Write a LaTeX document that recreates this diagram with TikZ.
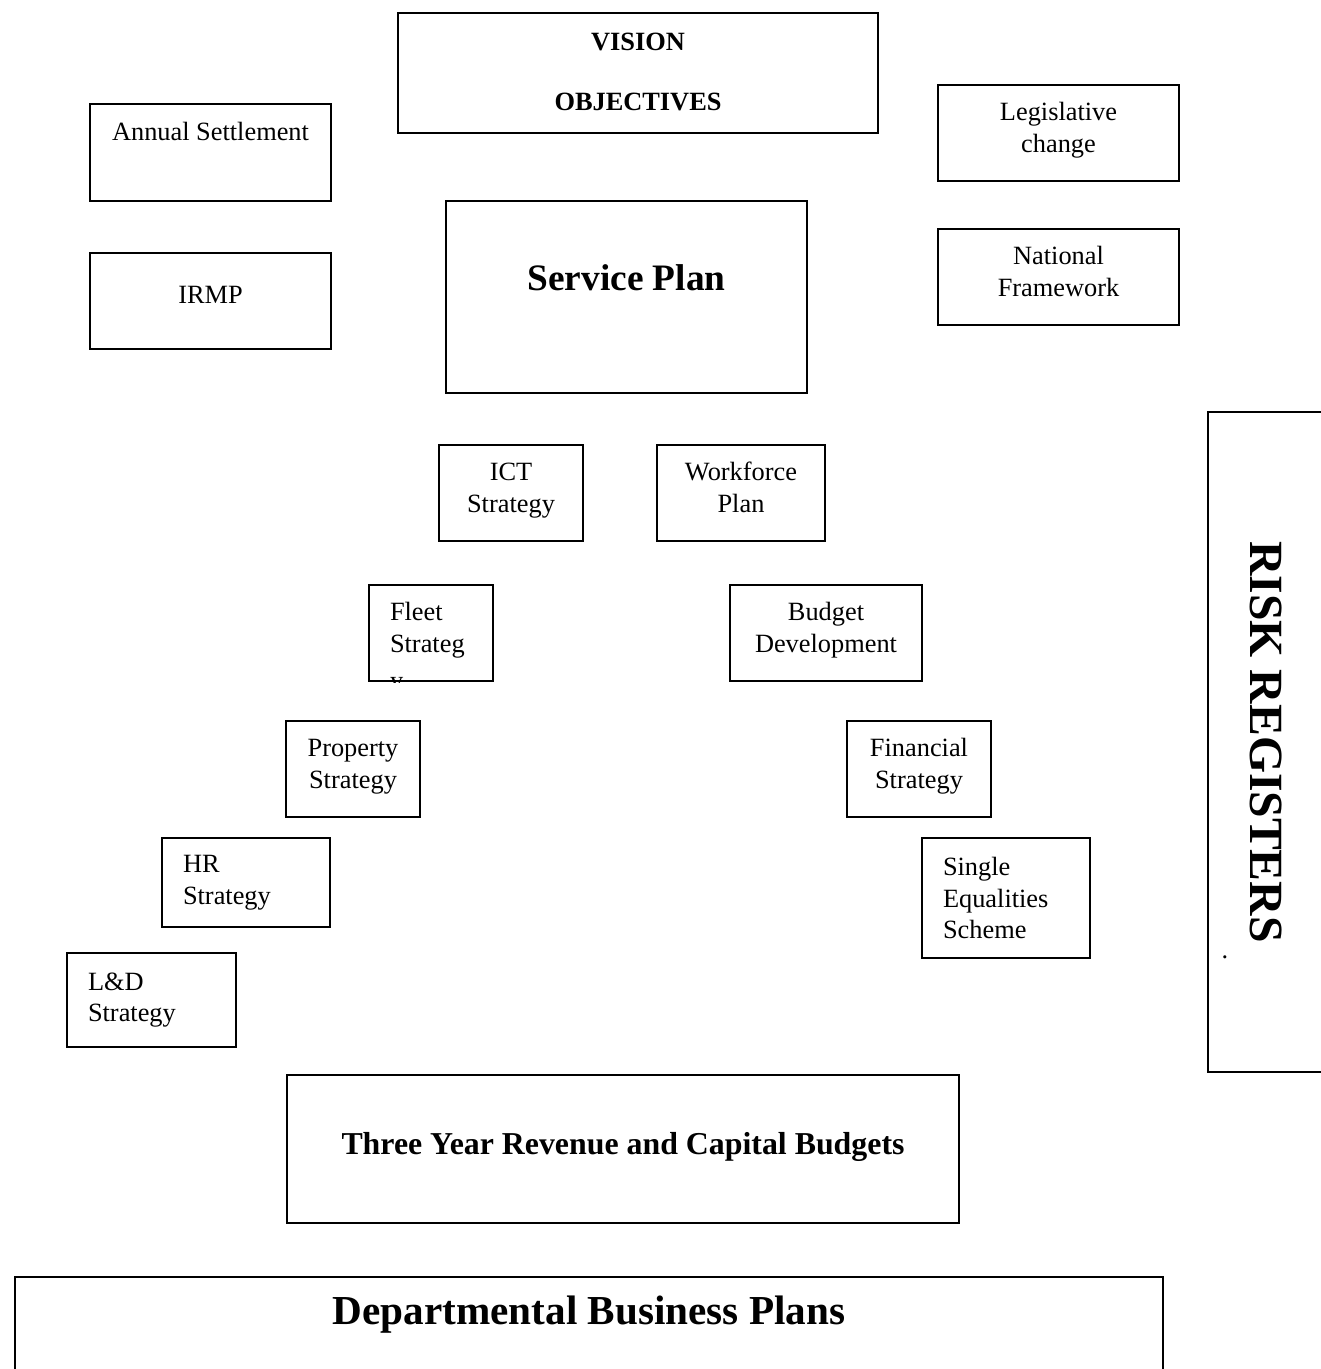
\documentclass[tikz,border=0pt]{standalone}
\usepackage{fontspec}
\setmainfont{Liberation Serif}
\usepackage{tikz}

\begin{document}
\begin{tikzpicture}[
  font=\fontsize{12}{14.5}\selectfont,
  box/.style={draw, line width=0.9pt, align=center, inner sep=0pt},
  tbox/.style={box, text depth=5pt},
  lbox/.style={draw, line width=0.9pt, align=left, inner xsep=0.336cm, inner ysep=0pt},
  head/.style={font=\bfseries\fontsize{12}{14.5}\selectfont}]
  \useasboundingbox (0,0) rectangle (21.12,-21.904);
  \node[box, head, minimum width=7.68cm, minimum height=1.92cm, text depth=1pt] (vision) at (10.208,-1.168) {VISION\\[12.8pt]OBJECTIVES};
  \node[box, minimum width=3.856cm, minimum height=1.552cm, text depth=19.6pt] (annual) at (3.368,-2.44) {Annual Settlement};
  \node[tbox, minimum width=3.856cm, minimum height=1.536cm] (legis) at (16.936,-2.128) {Legislative\\change};
  \node[box, font=\bfseries\fontsize{17}{20}\selectfont, minimum width=5.776cm, minimum height=3.072cm, text depth=17.3pt] (service) at (10.024,-4.752) {Service Plan};
  \node[box, minimum width=3.856cm, minimum height=1.536cm, text depth=5.5pt] (irmp) at (3.368,-4.816) {IRMP};
  \node[tbox, minimum width=3.856cm, minimum height=1.536cm] (national) at (16.936,-4.432) {National\\Framework};
  \node[box, rotate=-90, font=\bfseries\fontsize{21.7}{26}\selectfont, minimum width=10.56cm, minimum height=1.856cm] (risk) at (20.256,-11.872) {RISK REGISTERS};
  \node[inner sep=0pt] (dot) at (19.6,-15.32) {.};
  \node[tbox, minimum width=2.304cm, minimum height=1.536cm] (ict) at (8.176,-7.888) {ICT\\Strategy};
  \node[tbox, minimum width=2.688cm, minimum height=1.536cm] (workforce) at (11.856,-7.888) {Workforce\\Plan};
  \begin{scope}
    \clip (5.888,-9.344) rectangle (7.904,-10.912);
    \node[box, inner xsep=0.336cm] (fleet) at (6.896,-10.128) {\parbox[c][1.536cm][t]{1.312cm}{\raggedright\rule{0pt}{16.2pt}Fleet\\Strateg\\[2.3pt]y}};
  \end{scope}
  \node[tbox, minimum width=3.072cm, minimum height=1.536cm] (budget) at (13.216,-10.128) {Budget\\Development};
  \node[tbox, minimum width=2.144cm, minimum height=1.536cm] (property) at (5.648,-12.304) {Property\\Strategy};
  \node[tbox, minimum width=2.304cm, minimum height=1.536cm] (finance) at (14.704,-12.304) {Financial\\Strategy};
  \node[lbox, text width=2.016cm, minimum height=1.424cm] (hr) at (3.936,-14.12) {HR\\Strategy};
  \node[lbox, text width=2.016cm, minimum height=1.92cm] (equal) at (16.096,-14.368) {Single\\Equalities\\Scheme};
  \node[lbox, text width=2.032cm, minimum height=1.504cm] (lnd) at (2.424,-16.0) {L\&D\\Strategy};
  \node[box, font=\bfseries\fontsize{14.5}{17}\selectfont, minimum width=10.752cm, minimum height=2.368cm, text depth=5.5pt] (budgets) at (9.968,-18.384) {Three Year Revenue and Capital Budgets};
  \node[box, font=\bfseries\fontsize{18.75}{22}\selectfont, minimum width=18.368cm, minimum height=2.288cm, text depth=35pt] (dept) at (9.424,-21.576) {Departmental Business Plans};
\end{tikzpicture}
\end{document}
